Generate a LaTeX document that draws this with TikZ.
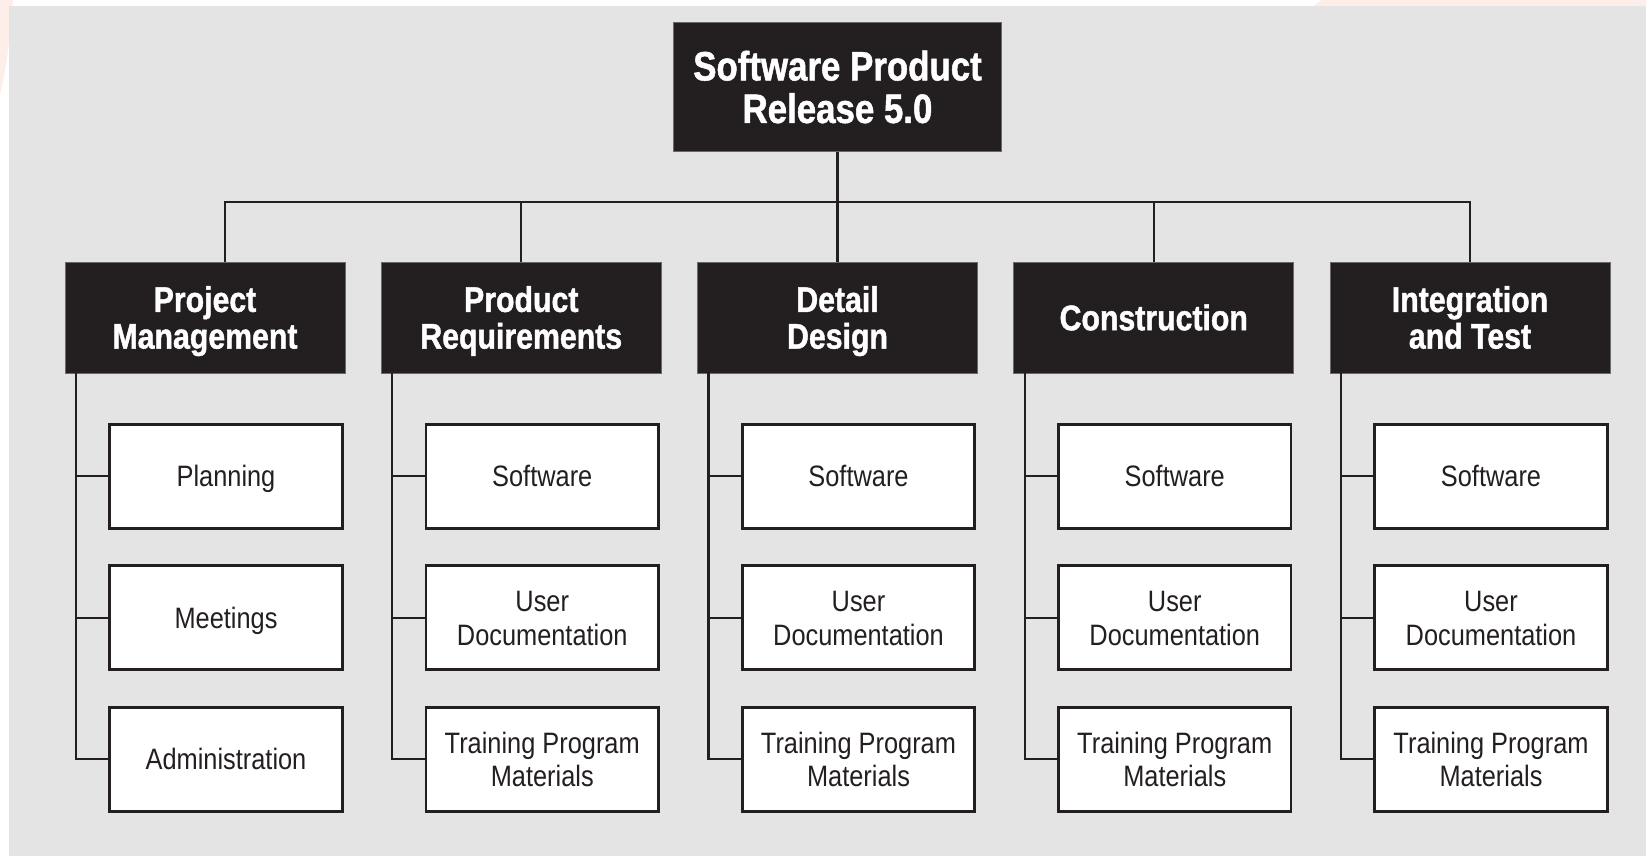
\documentclass[tikz,border=0pt]{standalone}
\usepackage{fontspec}
\setmainfont[FakeStretch=0.86, BoldFeatures={FakeStretch=0.85, FakeBold=1.2}]{Liberation Sans}
\definecolor{ink}{HTML}{231F20}
\definecolor{bgray}{HTML}{E4E4E4}
\definecolor{edgegray}{HTML}{6A6869}
\definecolor{blush}{HTML}{FDEEEA}
\newcommand{\capline}[1]{\smash{#1}\rule{0pt}{0.716em}}
\tikzset{
  topbox/.style={fill=ink, draw=edgegray, line width=0.8pt, text=white,
    minimum width=328pt, minimum height=129pt, inner sep=0pt, align=center,
    font=\bfseries\fontsize{41}{42.5}\selectfont},
  hdrbox/.style={fill=ink, draw=edgegray, line width=0.8pt, text=white,
    minimum width=280pt, minimum height=110.8pt, inner sep=0pt, align=center,
    font=\bfseries\fontsize{35.6}{36.7}\selectfont},
  leafbox/.style={fill=white, draw=ink, line width=2.8pt, text=ink,
    minimum width=232.5pt, minimum height=104.2pt, inner sep=0pt, align=center,
    font=\fontsize{29.5}{33.5}\selectfont},
  conn/.style={draw=ink, line width=2.2pt}
}
\begin{document}
\begin{tikzpicture}[x=1pt, y=-1pt]
\useasboundingbox (0,0) rectangle (1646,856);
\fill[white] (0,0) rectangle (1646,856);
\fill[blush] (0,0) -- (13,0) .. controls (10,40) and (6,70) .. (0,95) -- cycle;
\fill[blush] (1313,6) -- (1322,0) -- (1646,0) -- (1646,6) -- cycle;
\fill[bgray] (9,6) rectangle (1646,856);

% top
\node[topbox] (top) at (837.5,87) {\capline{Software Product}\\\capline{Release 5.0}};

% headers
\node[hdrbox] (h1) at (205,317.5)    {\capline{Project}\\\capline{Management}};
\node[hdrbox] (h2) at (521.25,317.5) {\capline{Product}\\\capline{Requirements}};
\node[hdrbox] (h3) at (837.5,317.5)  {\capline{Detail}\\\capline{Design}};
\node[hdrbox] (h4) at (1153.75,317.5){\capline{Construction}};
\node[hdrbox] (h5) at (1470,317.5)   {\capline{Integration}\\\capline{and Test}};

% leaves
\node[leafbox] (c11) at (226,476.3) {\capline{Planning}};
\node[leafbox] (c12) at (226,617.7) {\capline{Meetings}};
\node[leafbox] (c13) at (226,759.2) {\capline{Administration}};

\node[leafbox] (c21) at (542.25,476.3) {\capline{Software}};
\node[leafbox] (c22) at (542.25,617.7) {\capline{User}\\\capline{Documentation}};
\node[leafbox] (c23) at (542.25,759.2) {\capline{Training Program}\\\capline{Materials}};

\node[leafbox] (c31) at (858.5,476.3) {\capline{Software}};
\node[leafbox] (c32) at (858.5,617.7) {\capline{User}\\\capline{Documentation}};
\node[leafbox] (c33) at (858.5,759.2) {\capline{Training Program}\\\capline{Materials}};

\node[leafbox] (c41) at (1174.75,476.3) {\capline{Software}};
\node[leafbox] (c42) at (1174.75,617.7) {\capline{User}\\\capline{Documentation}};
\node[leafbox] (c43) at (1174.75,759.2) {\capline{Training Program}\\\capline{Materials}};

\node[leafbox] (c51) at (1491,476.3) {\capline{Software}};
\node[leafbox] (c52) at (1491,617.7) {\capline{User}\\\capline{Documentation}};
\node[leafbox] (c53) at (1491,759.2) {\capline{Training Program}\\\capline{Materials}};

% top-level connectors
\coordinate (bar) at (837.5,202.3);
\draw[conn] (top.south) -- (h3.north);
\draw[conn] ([xshift=20pt]h1.north) |- (h5.north |- bar) -- (h5.north);
\draw[conn] (h2.north) -- (h2.north |- bar);
\draw[conn] (h4.north) -- (h4.north |- bar);

% branch connectors
\foreach \k in {1,...,5}{
  \coordinate (v\k) at ([xshift=-129pt]h\k.south);
  \draw[conn] (v\k) |- (c\k3.west);
  \draw[conn] (c\k1.west) -- (c\k1.west -| v\k);
  \draw[conn] (c\k2.west) -- (c\k2.west -| v\k);
}
\end{tikzpicture}
\end{document}
